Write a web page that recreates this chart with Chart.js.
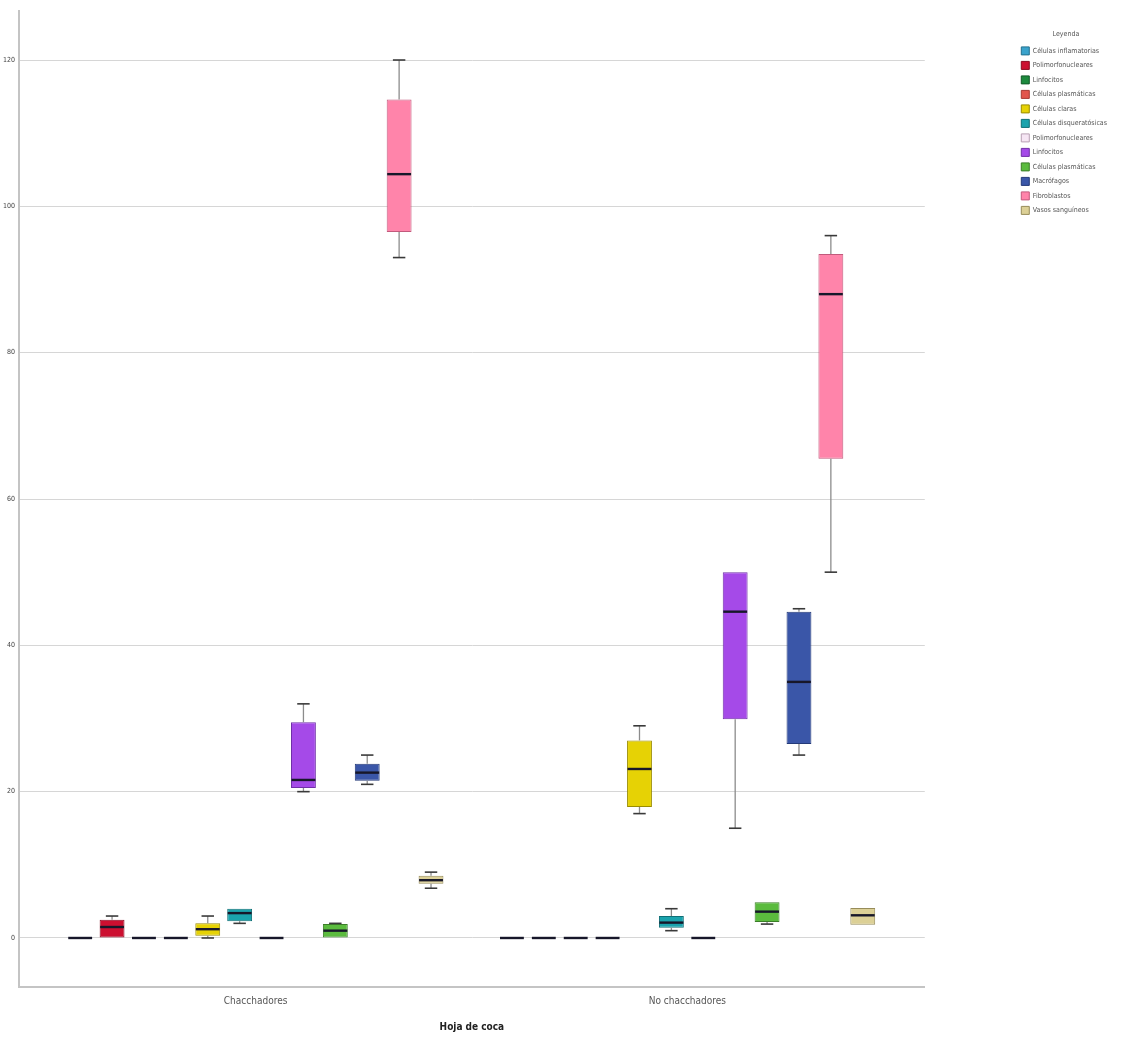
<!DOCTYPE html>
<html>
<head>
<meta charset="utf-8">
<script src="https://cdn.jsdelivr.net/npm/chart.js@4"></script>
<style>
  html, body { margin: 0; padding: 0; background: #ffffff; }
  #wrap { width: 1121px; height: 1041px; position: relative; }
</style>
</head>
<body>
<div id="wrap"><canvas id="c" width="1121" height="1041"></canvas></div>
<script>
// ---- data ----
const categories = ['Chacchadores', 'No chacchadores'];
const seriesLabels = [
  'Células inflamatorias', 'Polimorfonucleares', 'Linfocitos', 'Células plasmáticas',
  'Células claras', 'Células disqueratósicas', 'Polimorfonucleares', 'Linfocitos',
  'Células plasmáticas', 'Macrófagos', 'Fibroblastos', 'Vasos sanguíneos'
];
const fillColors = ['#3aa3cc', '#cc0f30', '#1d8a3e', '#e2554d', '#e6d205', '#1aa3ad',
  '#f6e6f4', '#a54ae8', '#5bbb3e', '#3a56a8', '#ff84aa', '#dcd096'];
const edgeColors = ['#23708e', '#8a0a20', '#125a28', '#a83a34', '#9a8c00', '#0f6f76',
  '#b8a0b4', '#7030a8', '#3b7e28', '#243a78', '#c25a7c', '#978c5a'];
const tickValues = [0, 20, 40, 60, 80, 100, 120];

// Chacchadores
const chMin    = [0, 0,   0, 0, 0,   2,   0, 20,   0,   21,   93,   6.8];
const chQ1     = [0, 0,   0, 0, 0.3, 2.3, 0, 20.5, 0,   21.5, 96.5, 7.4];
const chMedian = [0, 1.5, 0, 0, 1.2, 3.4, 0, 21.6, 1,   22.6, 104.4, 7.9];
const chQ3     = [0, 2.5, 0, 0, 2,   4,   0, 29.5, 1.9, 23.8, 114.6, 8.5];
const chMax    = [0, 3,   0, 0, 3,   4,   0, 32,   2,   25,   120,  9];
// No chacchadores
const ncMin    = [0, 0, 0, 0, 17,   1,   0, 15,   1.9, 25,   50,   1.8];
const ncQ1     = [0, 0, 0, 0, 17.9, 1.4, 0, 29.9, 2.2, 26.5, 65.5, 1.8];
const ncMedian = [0, 0, 0, 0, 23.1, 2.1, 0, 44.6, 3.6, 35,   88,   3.1];
const ncQ3     = [0, 0, 0, 0, 27,   3,   0, 50,   4.9, 44.6, 93.5, 4.1];
const ncMax    = [0, 0, 0, 0, 29,   4,   0, 50,   4.9, 45,   96,   4.1];

const groupStats = [
  { min: chMin, q1: chQ1, med: chMedian, q3: chQ3, max: chMax },
  { min: ncMin, q1: ncQ1, med: ncMedian, q3: ncQ3, max: ncMax }
];

const datasets = seriesLabels.map((label, i) => ({
  label: label,
  data: groupStats.map((s, j) => ({ x: j, y: [s.q1[i], s.q3[i]] })),
  backgroundColor: fillColors[i],
  borderColor: edgeColors[i],
  borderWidth: 1,
  borderSkipped: false,
  categoryPercentage: 0.8865,
  barPercentage: 0.78
}));

const boxPlotPlugin = {
  id: 'boxWhiskers',
  afterDatasetsDraw(chart) {
    const ctx = chart.ctx;
    const y = chart.scales.y;
    chart.data.datasets.forEach((ds, i) => {
      const meta = chart.getDatasetMeta(i);
      meta.data.forEach((bar, j) => {
        const s = groupStats[j];
        const x = bar.x;
        const half = bar.width / 2;
        const cap = half / 2;
        const pMin = y.getPixelForValue(s.min[i]);
        const pQ1 = y.getPixelForValue(s.q1[i]);
        const pMed = y.getPixelForValue(s.med[i]);
        const pQ3 = y.getPixelForValue(s.q3[i]);
        const pMax = y.getPixelForValue(s.max[i]);
        ctx.save();
        ctx.lineCap = 'butt';
        if (s.max[i] > s.q3[i]) {
          ctx.strokeStyle = '#8c8c8c'; ctx.lineWidth = 1.3;
          ctx.beginPath(); ctx.moveTo(x, pQ3); ctx.lineTo(x, pMax); ctx.stroke();
          ctx.strokeStyle = '#3a3a3a'; ctx.lineWidth = 1.6;
          ctx.beginPath(); ctx.moveTo(x - cap, pMax); ctx.lineTo(x + cap, pMax); ctx.stroke();
        }
        if (s.min[i] < s.q1[i]) {
          ctx.strokeStyle = '#8c8c8c'; ctx.lineWidth = 1.3;
          ctx.beginPath(); ctx.moveTo(x, pQ1); ctx.lineTo(x, pMin); ctx.stroke();
          ctx.strokeStyle = '#3a3a3a'; ctx.lineWidth = 1.6;
          ctx.beginPath(); ctx.moveTo(x - cap, pMin); ctx.lineTo(x + cap, pMin); ctx.stroke();
        }
        ctx.strokeStyle = '#17172a'; ctx.lineWidth = 2.4;
        ctx.beginPath(); ctx.moveTo(x - half + 0.5, pMed); ctx.lineTo(x + half - 0.5, pMed); ctx.stroke();
        ctx.restore();
      });
    });
  }
};

const narrow = "'Liberation Sans Narrow', 'DejaVu Sans Condensed', 'Liberation Sans', sans-serif";

new Chart(document.getElementById('c'), {
  type: 'bar',
  data: { datasets: datasets },
  plugins: [boxPlotPlugin],
  options: {
    responsive: false,
    animation: false,
    layout: { padding: { top: 11, right: 4, bottom: 0, left: 0 } },
    scales: {
      x: {
        type: 'linear',
        offset: false,
        min: -0.548,
        max: 1.55,
        grid: { display: false, drawTicks: false, offset: false },
        border: { display: true, color: '#c4c4c4', width: 2 },
        afterBuildTicks: (s) => { s.ticks = categories.map((c, k) => ({ value: k })); },
        afterFit: (s) => { s.height = 54; },
        ticks: {
          padding: 8,
          color: '#555555',
          font: { family: narrow, size: 10 },
          callback: (v) => categories[v]
        },
        title: {
          display: true,
          text: 'Hoja de coca',
          color: '#222222',
          font: { family: narrow, size: 10, weight: 'bold' },
          padding: { top: 4, bottom: 8 }
        }
      },
      y: {
        type: 'linear',
        min: -6.7,
        max: 126.7,
        afterBuildTicks: (s) => { s.ticks = tickValues.map(v => ({ value: v })); },
        afterFit: (s) => { s.width = 19; },
        grid: { color: '#d6d6d6', lineWidth: 1, drawTicks: false },
        border: { display: true, color: '#c4c4c4', width: 2 },
        ticks: {
          padding: 4,
          color: '#444444',
          font: { family: narrow, size: 7 },
          callback: (v) => String(v)
        }
      },
      gap: {
        type: 'linear',
        position: 'right',
        display: true,
        grid: { display: false, drawTicks: false },
        border: { display: false },
        ticks: { display: false },
        afterFit: (s) => { s.width = 90; }
      }
    },
    plugins: {
      legend: {
        position: 'right',
        align: 'start',
        title: {
          display: true,
          text: 'Leyenda',
          color: '#555555',
          font: { family: narrow, size: 7 },
          padding: { top: 20, bottom: 1 }
        },
        labels: {
          boxWidth: 8,
          boxHeight: 8,
          padding: 6.5,
          color: '#555555',
          font: { family: narrow, size: 7 }
        }
      },
      tooltip: { enabled: false }
    }
  }
});
</script>
</body>
</html>
